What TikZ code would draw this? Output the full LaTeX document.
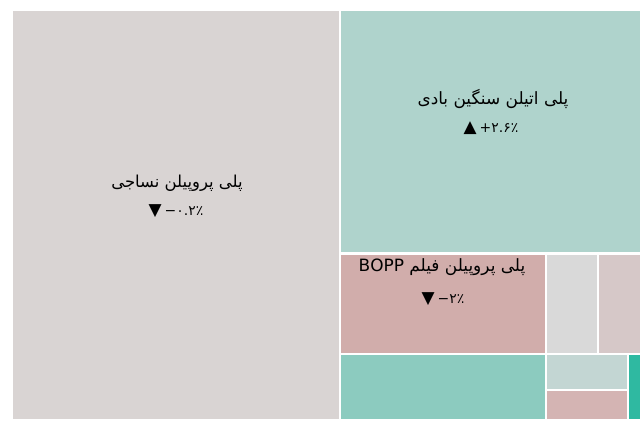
\documentclass[tikz,border=0pt]{standalone}
\usepackage{fontspec}
\newfontfamily\arabicfont[Script=Arabic]{DejaVu Sans}
\newfontfamily\numfont{DejaVu Sans}
\TeXXeTstate=1
\definecolor{cA}{HTML}{D9D4D3}
\definecolor{cB}{HTML}{AFD3CC}
\definecolor{cC}{HTML}{D1ADAB}
\definecolor{cD}{HTML}{D9D9D9}
\definecolor{cE}{HTML}{D6C8C8}
\definecolor{cF}{HTML}{8CCBBF}
\definecolor{cG}{HTML}{C3D6D3}
\definecolor{cH}{HTML}{D4B4B3}
\definecolor{cI}{HTML}{2FB9A1}
\newcommand{\chg}[3]{\hbox{\fontsize{17}{19}\selectfont #1}\hspace{3bp}\hbox{#2}\hbox{#3}}
\begin{document}
\begin{tikzpicture}[x=1bp,y=1bp,
  lbl/.style={font=\arabicfont\fontsize{17}{19}\selectfont, text=black, inner sep=0pt, anchor=center},
  lbls/.style={lbl, font=\arabicfont\fontsize{16.5}{19}\selectfont},
  num/.style={font=\numfont\fontsize{14}{17}\selectfont, text=black, inner sep=0pt, anchor=center}]
\useasboundingbox (0,0) rectangle (640,425);
% tiles (image y -> 425 - y)
\fill[cA] (13,6) rectangle (339,414);
\fill[cB] (341,6+167) rectangle (640,414);
\fill[cC] (341,425-352.7) rectangle (545,425-255);
\fill[cD] (547,425-352.7) rectangle (597,425-255);
\fill[cE] (599,425-352.7) rectangle (640,425-255);
\fill[cF] (341,6) rectangle (545,425-355);
\fill[cG] (547,425-388.7) rectangle (627,425-355);
\fill[cH] (547,6) rectangle (627,425-391);
\fill[cI] (629,6) rectangle (640,425-355);
% labels
\node[lbls] (a1) at (177,425-183) {\beginR پلی پروپیلن نساجی\endR};
\node[num] (a2) at (176,425-211) {\chg{▼}{−}{۰.۲٪}};
\node[lbl] (b1) at (493,425-99) {\beginR پلی اتیلن سنگین بادی\endR};
\node[num] (b2) at (491,425-128) {\chg{▲}{+}{۲.۶٪}};
\node[lbl] (c1) at (442,425-267) {\beginR پلی پروپیلن فیلم \beginL BOPP\endL\endR};
\node[num] (c2) at (443,425-299) {\chg{▼}{−}{۲٪}};
\end{tikzpicture}
\end{document}
